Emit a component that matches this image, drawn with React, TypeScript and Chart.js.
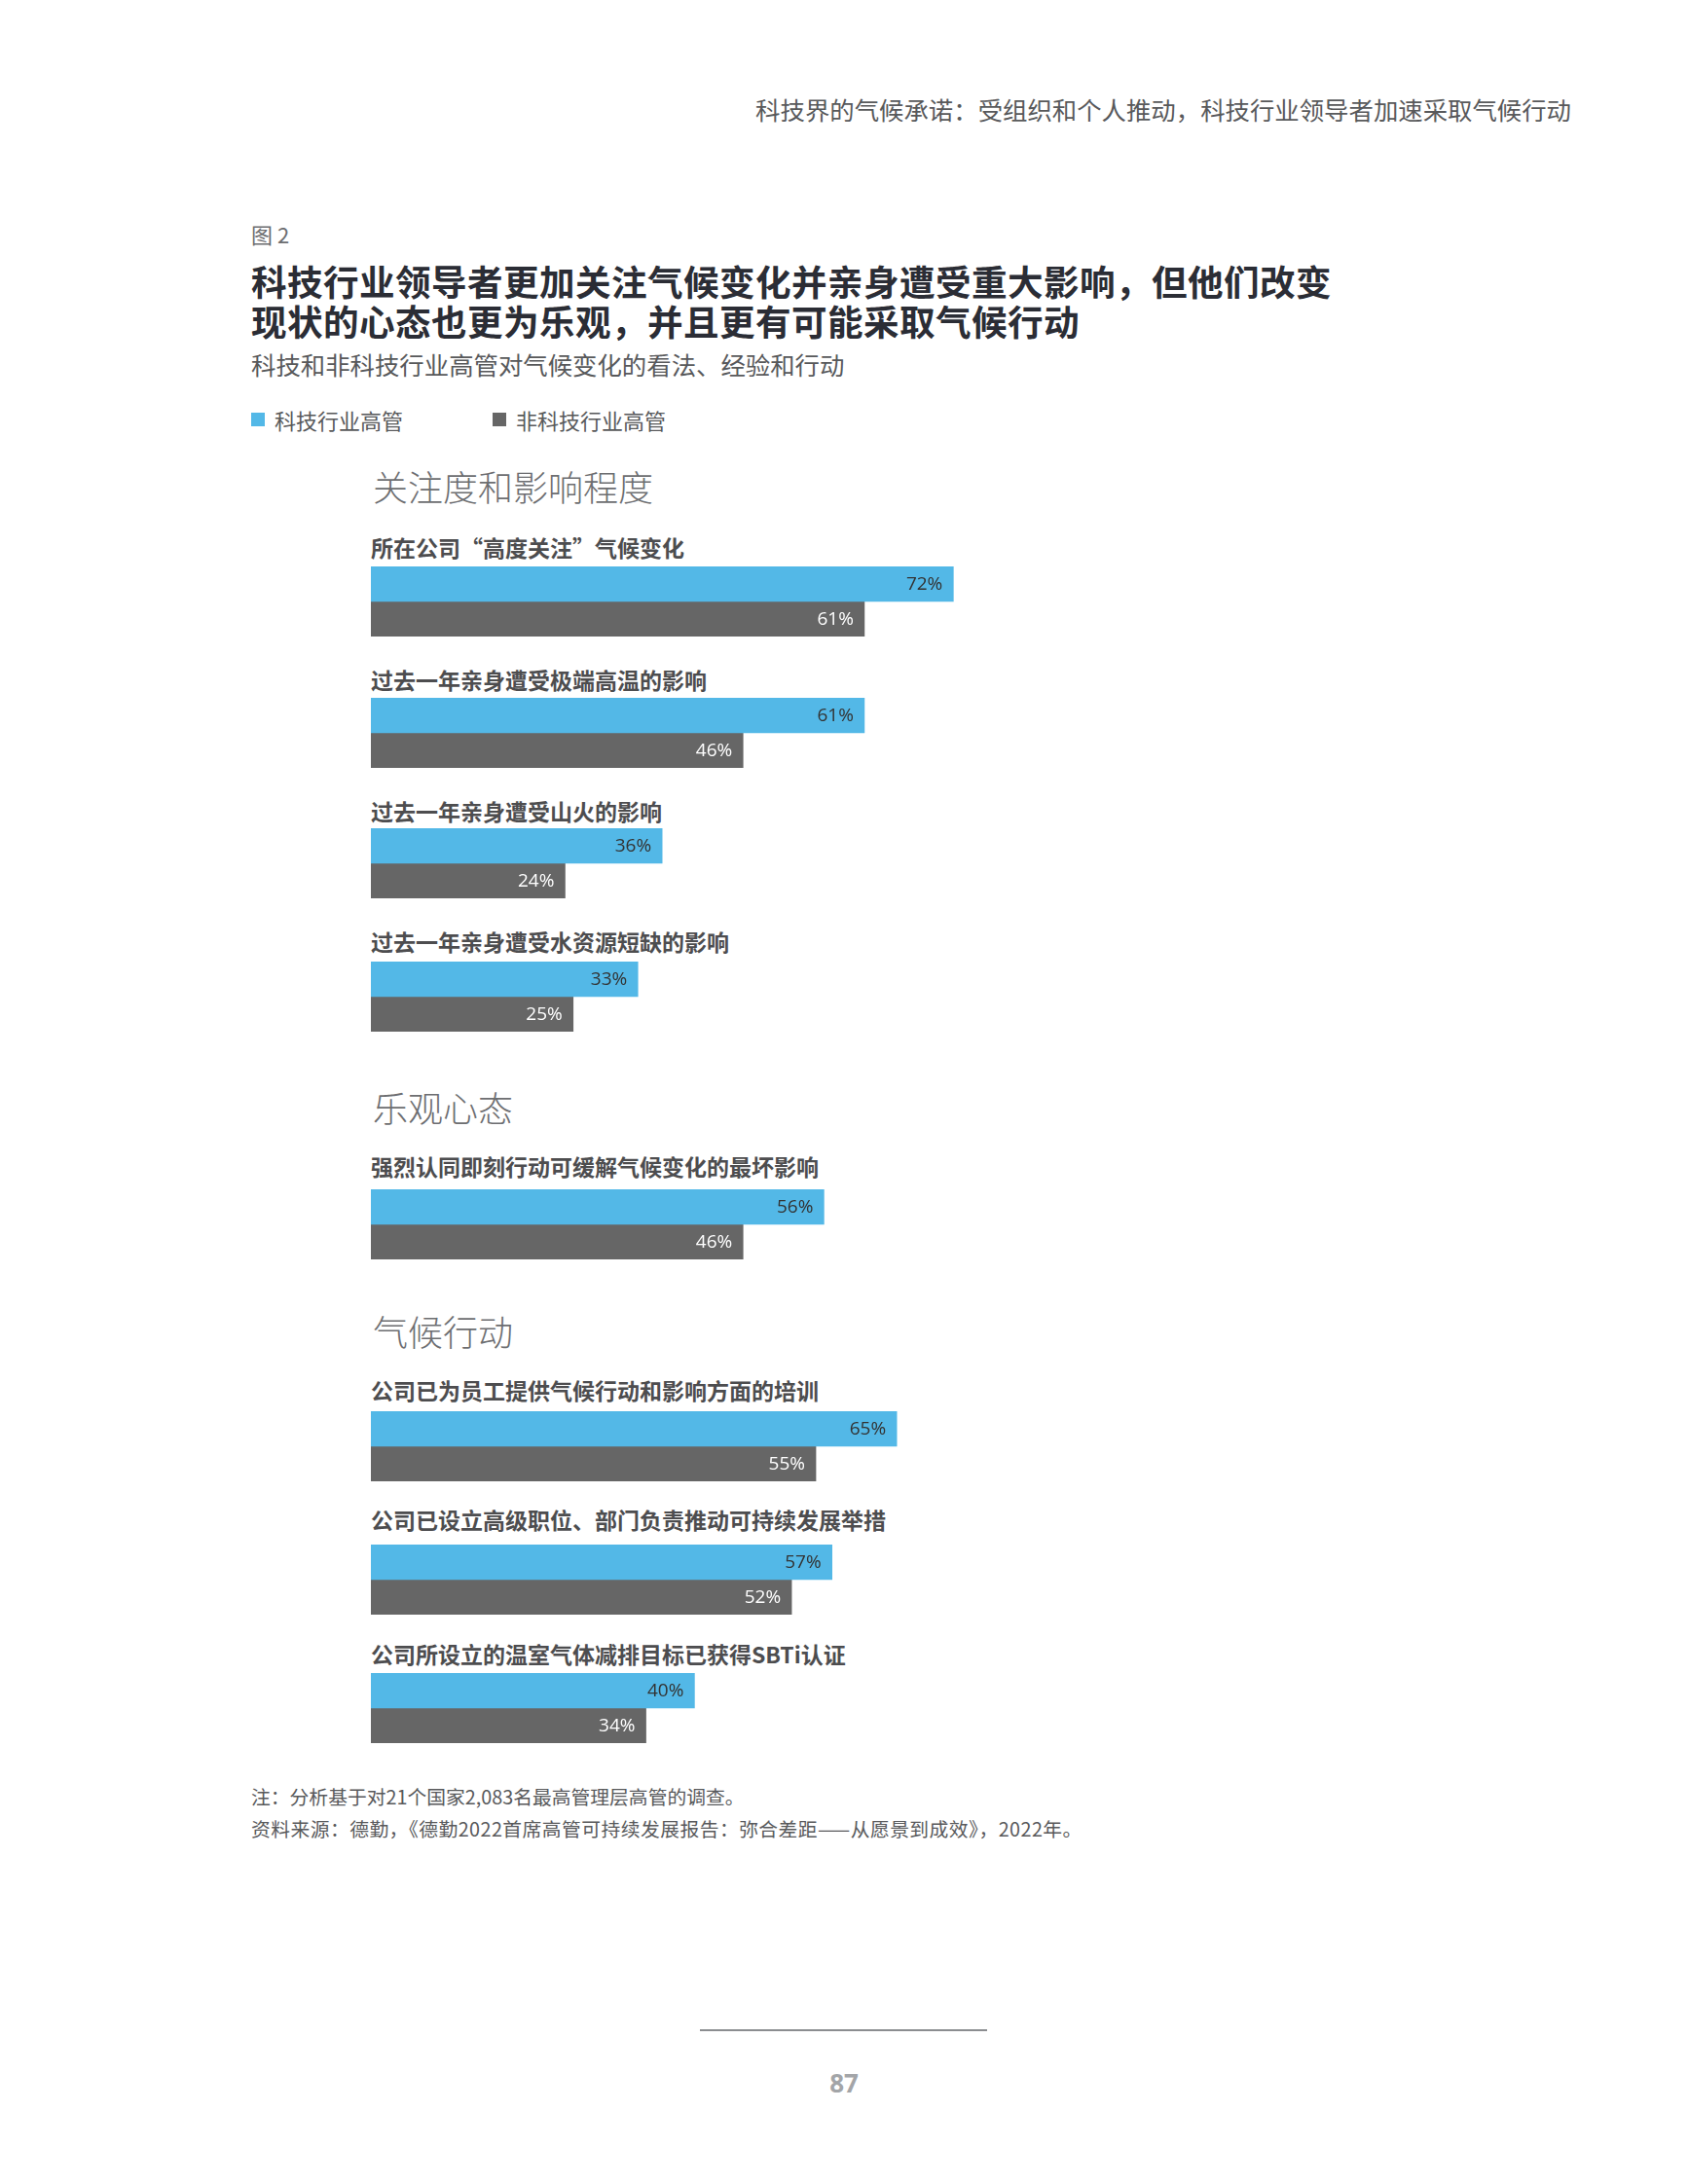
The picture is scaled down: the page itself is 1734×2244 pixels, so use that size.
import React, { useEffect, useRef } from "react";
import { Chart, registerables } from "chart.js";

Chart.register(...registerables);

// ---------- data ----------
const HEADER = "科技界的气候承诺：受组织和个人推动，科技行业领导者加速采取气候行动";
const FIG_LABEL = "图 2";
const TITLE_LINES = [
  "科技行业领导者更加关注气候变化并亲身遭受重大影响，但他们改变",
  "现状的心态也更为乐观，并且更有可能采取气候行动",
];
const SUBTITLE = "科技和非科技行业高管对气候变化的看法、经验和行动";
const SERIES_NAMES = ["科技行业高管", "非科技行业高管"];
const SECTIONS = ["关注度和影响程度", "乐观心态", "气候行动"];
const CATEGORIES = [
  "所在公司“高度关注”气候变化",
  "过去一年亲身遭受极端高温的影响",
  "过去一年亲身遭受山火的影响",
  "过去一年亲身遭受水资源短缺的影响",
  "强烈认同即刻行动可缓解气候变化的最坏影响",
  "公司已为员工提供气候行动和影响方面的培训",
  "公司已设立高级职位、部门负责推动可持续发展举措",
  "公司所设立的温室气体减排目标已获得SBTi认证",
];
const TECH_VALUES = [72, 61, 36, 33, 56, 65, 57, 40];
const NON_TECH_VALUES = [61, 46, 24, 25, 46, 55, 52, 34];
const NOTES = [
  "注：分析基于对21个国家2,083名最高管理层高管的调查。",
  "资料来源：德勤，《德勤2022首席高管可持续发展报告：弥合差距——从愿景到成效》，2022年。",
];
const PAGE_NUMBER = "87";

// ---------- layout & style ----------
const BLUE = "#53b8e7";
const GRAY = "#666666";
const CJK = '"Noto Sans CJK SC", "Noto Sans", sans-serif';
const TITLE_FONT = '"TitleCJK", "Noto Sans CJK SC", "Noto Sans", sans-serif';
const FONT_FACE_CSS = `
@font-face {
  font-family: "TitleCJK";
  src: local("Noto Sans CJK SC Bold"), local("NotoSansCJKsc-Bold");
  font-weight: 700;
  ascent-override: 92%;
  descent-override: 8%;
  line-gap-override: 0%;
}`;
const LEFT = 258;
const BAR_LEFT = 381;
const BAR_WIDTH_FULL = 831; // width of 0..100%
const BAR_BLOCK_H = 72;
const ITEM_TOPS = [582, 717, 851, 988, 1222, 1450, 1587, 1719];
const LABEL_CENTERS = [562, 698, 833, 967, 1198, 1428, 1561, 1699];
const SECTION_CENTERS = [500, 1138, 1368];
const SECTION_OF_ITEM = [0, 0, 0, 0, 1, 2, 2, 2];

const valueLabelPlugin = {
  id: "valueLabels",
  afterDatasetsDraw(chart: any) {
    const ctx = chart.ctx;
    ctx.save();
    ctx.font = '19px "Open Sans", "Noto Sans", sans-serif';
    ctx.textAlign = "right";
    ctx.textBaseline = "middle";
    chart.data.datasets.forEach((ds: any, di: number) => {
      const meta = chart.getDatasetMeta(di);
      meta.data.forEach((el: any, i: number) => {
        ctx.fillStyle = di === 0 ? "#333333" : "#ffffff";
        ctx.fillText(ds.data[i] + "%", el.x - 11, el.y + 1);
      });
    });
    ctx.restore();
  },
};

function BarPair({ name, tech, nonTech }: { name: string; tech: number; nonTech: number }) {
  const ref = useRef<HTMLCanvasElement | null>(null);
  useEffect(() => {
    if (!ref.current) return;
    const chart = new Chart(ref.current, {
      type: "bar",
      data: {
        labels: [name],
        datasets: [
          {
            label: SERIES_NAMES[0],
            data: [tech],
            backgroundColor: BLUE,
            categoryPercentage: 1,
            barPercentage: 1,
            borderWidth: 0,
          },
          {
            label: SERIES_NAMES[1],
            data: [nonTech],
            backgroundColor: GRAY,
            categoryPercentage: 1,
            barPercentage: 1,
            borderWidth: 0,
          },
        ],
      },
      options: {
        indexAxis: "y",
        responsive: false,
        animation: false,
        events: [],
        layout: { padding: 0 },
        plugins: { legend: { display: false }, tooltip: { enabled: false } },
        scales: {
          x: { min: 0, max: 100, display: false },
          y: { display: false },
        },
      },
      plugins: [valueLabelPlugin],
    } as any);
    return () => chart.destroy();
  }, [name, tech, nonTech]);
  return <canvas ref={ref} width={BAR_WIDTH_FULL} height={BAR_BLOCK_H} />;
}

function abs(top: number, left: number, extra: React.CSSProperties = {}): React.CSSProperties {
  return { position: "absolute", top, left, margin: 0, whiteSpace: "nowrap", fontFamily: CJK, ...extra };
}

export default function App() {
  return (
    <div
      style={{
        position: "absolute",
        left: 0,
        top: 0,
        width: 1734,
        height: 2244,
        background: "#ffffff",
        overflow: "hidden",
        fontFamily: CJK,
      }}
    >
      <style>{FONT_FACE_CSS}</style>

      {/* running header */}
      <div
        style={abs(112 - 16, 0, {
          right: 120,
          left: "auto",
          fontSize: 25.4,
          lineHeight: "32px",
          color: "#58595b",
          textAlign: "right",
        })}
      >
        {HEADER}
      </div>

      {/* figure label */}
      <div style={abs(240 - 15, LEFT, { fontSize: 22, lineHeight: "30px", color: "#6d6e71" })}>{FIG_LABEL}</div>

      {/* title (one block, two lines) */}
      <div
        style={abs(288 - 20, LEFT, {
          fontFamily: TITLE_FONT,
          fontSize: 36.6,
          lineHeight: "41px",
          fontWeight: 700,
          color: "#2b2d35",
        })}
      >
        {TITLE_LINES[0]}
        <br />
        {TITLE_LINES[1]}
      </div>

      {/* subtitle */}
      <div style={abs(374 - 16, LEFT, { fontSize: 25.4, lineHeight: "32px", color: "#58595b" })}>{SUBTITLE}</div>

      {/* legend */}
      {SERIES_NAMES.map((s, i) => (
        <div key={s} style={abs(431 - 15, LEFT + i * 248, { height: 30, display: "flex", alignItems: "center" })}>
          <span style={{ display: "inline-block", width: 14, height: 14, background: i === 0 ? BLUE : GRAY, marginRight: 10 }} />
          <span style={{ fontSize: 22, lineHeight: "30px", color: "#58595b" }}>{s}</span>
        </div>
      ))}

      {/* section headings */}
      {SECTIONS.map((s, i) => (
        <div
          key={s}
          style={abs(SECTION_CENTERS[i] - 24, BAR_LEFT + 2, {
            fontSize: 36,
            lineHeight: "46px",
            fontWeight: 300,
            color: "#6d6e71",
          })}
        >
          {s}
        </div>
      ))}

      {/* items */}
      {CATEGORIES.map((c, i) => (
        <React.Fragment key={c}>
          <div
            style={abs(LABEL_CENTERS[i] - 16, BAR_LEFT, {
              fontSize: 23,
              lineHeight: "32px",
              fontWeight: 700,
              color: "#4d4d4f",
            })}
            data-section={SECTIONS[SECTION_OF_ITEM[i]]}
          >
            {c}
          </div>
          <div style={{ position: "absolute", top: ITEM_TOPS[i], left: BAR_LEFT, width: BAR_WIDTH_FULL, height: BAR_BLOCK_H }}>
            <BarPair name={c} tech={TECH_VALUES[i]} nonTech={NON_TECH_VALUES[i]} />
          </div>
        </React.Fragment>
      ))}

      {/* notes */}
      {NOTES.map((n, i) => (
        <div
          key={i}
          style={abs(1846 + i * 33 - 14, LEFT, {
            fontSize: 19.8,
            lineHeight: "28px",
            color: "#58595b",
            letterSpacing: i === 1 ? 0.45 : 0,
          })}
        >
          {n}
        </div>
      ))}

      {/* footer */}
      <div style={{ position: "absolute", top: 2085, left: 719, width: 295, height: 2, background: "#8b8d90" }} />
      <div
        style={abs(2140 - 17, 0, {
          width: 1734,
          textAlign: "center",
          fontSize: 26,
          lineHeight: "34px",
          fontWeight: 700,
          color: "#a3a5a8",
          fontFamily: '"Open Sans", "Noto Sans", sans-serif',
        })}
      >
        {PAGE_NUMBER}
      </div>
    </div>
  );
}
